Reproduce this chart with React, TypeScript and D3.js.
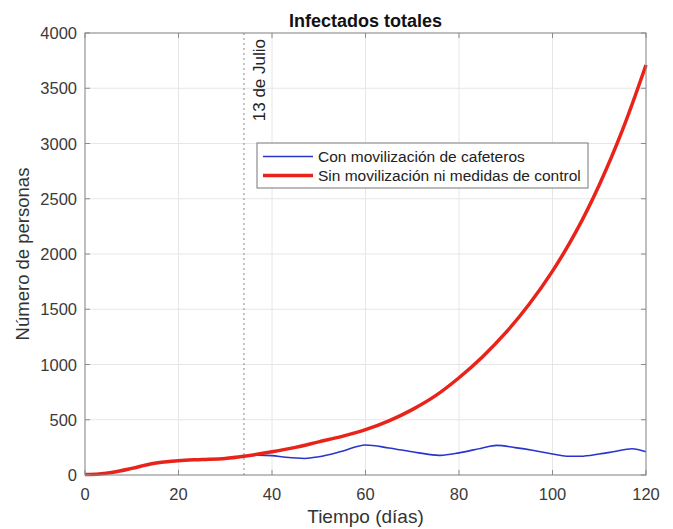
import React from 'react';
import * as d3 from 'd3';

// days / values
const redDays = [0, 3, 6, 10, 14, 17, 20, 25, 30, 34, 40, 45, 50, 55, 60, 65, 70, 75, 80, 85, 90, 95, 100, 105, 110, 115, 120];
const redValues = [5, 10, 25, 60, 100, 118, 130, 140, 150, 170, 210, 250, 300, 350, 410, 490, 592, 718, 880, 1068, 1288, 1545, 1845, 2200, 2625, 3125, 3710];

const blueDays = [0, 3, 6, 10, 14, 17, 20, 25, 30, 34, 37, 40, 43, 47, 50, 55, 60, 65, 70, 75, 76, 80, 85, 88, 92, 96, 100, 103, 106, 110, 113, 117, 120];
const blueValues = [5, 10, 25, 60, 100, 118, 130, 140, 150, 170, 180, 175, 160, 150, 165, 215, 272, 245, 210, 180, 178, 200, 245, 268, 248, 222, 190, 170, 170, 190, 210, 238, 210];

const xTicks = [0, 20, 40, 60, 80, 100, 120];
const yTicks = [0, 500, 1000, 1500, 2000, 2500, 3000, 3500, 4000];
const markerDay = 34;

const legendLabels = ['Con movilización de cafeteros', 'Sin movilización ni medidas de control'];

const W = 673;
const H = 529;
const margin = { top: 33, right: 27, bottom: 54, left: 85 };

const App: React.FC = () => {
  const x = d3.scaleLinear().domain([0, 120]).range([margin.left, W - margin.right]);
  const y = d3.scaleLinear().domain([0, 4000]).range([H - margin.bottom, margin.top]);

  const redLine = d3.line<[number, number]>()
    .curve(d3.curveCatmullRom.alpha(0.5))
    .x(d => x(d[0]))
    .y(d => y(d[1]));

  const blueLine = d3.line<[number, number]>()
    .curve(d3.curveMonotoneX)
    .x(d => x(d[0]))
    .y(d => y(d[1]));

  const redPath = redLine(redDays.map((d, i) => [d, redValues[i]] as [number, number])) || '';
  const bluePath = blueLine(blueDays.map((d, i) => [d, blueValues[i]] as [number, number])) || '';

  const x0 = x(0), x1 = x(120), y0 = y(0), y1 = y(4000);
  const font = '"Liberation Sans", Arial, sans-serif';
  const tickLen = 5;

  return (
    <svg width={W} height={H} style={{ position: 'absolute', left: 0, top: 0, background: '#fff' }} fontFamily={font}>
      {/* grid */}
      {xTicks.map(t => (
        <line key={'gx' + t} x1={x(t)} x2={x(t)} y1={y0} y2={y1} stroke="#e6e6e6" strokeWidth={1} />
      ))}
      {yTicks.map(t => (
        <line key={'gy' + t} x1={x0} x2={x1} y1={y(t)} y2={y(t)} stroke="#e6e6e6" strokeWidth={1} />
      ))}

      {/* marker line */}
      <line x1={x(markerDay)} x2={x(markerDay)} y1={y0} y2={y1} stroke="#888" strokeWidth={1} strokeDasharray="2,3" />
      <text
        transform={`translate(${x(markerDay) + 21},${y1 + 6}) rotate(-90)`}
        textAnchor="end"
        fontSize={17}
        fill="#222"
      >13 de Julio</text>

      {/* series */}
      <path d={bluePath} fill="none" stroke="#2a35cc" strokeWidth={1.6} />
      <path d={redPath} fill="none" stroke="#e8231a" strokeWidth={3.5} strokeLinejoin="round" />

      {/* frame and ticks */}
      <rect x={x0} y={y1} width={x1 - x0} height={y0 - y1} fill="none" stroke="#8a8a8a" strokeWidth={1} />
      {xTicks.map(t => (
        <g key={'tx' + t}>
          <line x1={x(t)} x2={x(t)} y1={y0} y2={y0 - tickLen} stroke="#8a8a8a" />
          <line x1={x(t)} x2={x(t)} y1={y1} y2={y1 + tickLen} stroke="#8a8a8a" />
          <text x={x(t)} y={y0 + 25} textAnchor="middle" fontSize={16.5} fill="#3a3a3a">{t}</text>
        </g>
      ))}
      {yTicks.map(t => (
        <g key={'ty' + t}>
          <line x1={x0} x2={x0 + tickLen} y1={y(t)} y2={y(t)} stroke="#8a8a8a" />
          <line x1={x1} x2={x1 - tickLen} y1={y(t)} y2={y(t)} stroke="#8a8a8a" />
          <text x={x0 - 8} y={y(t) + 6} textAnchor="end" fontSize={16.5} fill="#3a3a3a">{t}</text>
        </g>
      ))}

      {/* title and axis labels */}
      <text x={(x0 + x1) / 2} y={27} textAnchor="middle" fontSize={18} fontWeight="bold" fill="#111">Infectados totales</text>
      <text x={(x0 + x1) / 2} y={523} textAnchor="middle" fontSize={19} fill="#333">Tiempo (días)</text>
      <text transform={`translate(29,${(y0 + y1) / 2}) rotate(-90)`} textAnchor="middle" fontSize={18.5} fill="#333">Número de personas</text>

      {/* legend */}
      <g transform="translate(257,143)">
        <rect x={0} y={0} width={331} height={45} fill="#fff" stroke="#777" strokeWidth={1} />
        <line x1={6} x2={56} y1={13.5} y2={13.5} stroke="#2a35cc" strokeWidth={1.6} />
        <text x={61} y={19} fontSize={15.5} fill="#222">{legendLabels[0]}</text>
        <line x1={6} x2={56} y1={32.5} y2={32.5} stroke="#e8231a" strokeWidth={3.5} />
        <text x={61} y={38} fontSize={15.5} fill="#222">{legendLabels[1]}</text>
      </g>
    </svg>
  );
};

export default App;
